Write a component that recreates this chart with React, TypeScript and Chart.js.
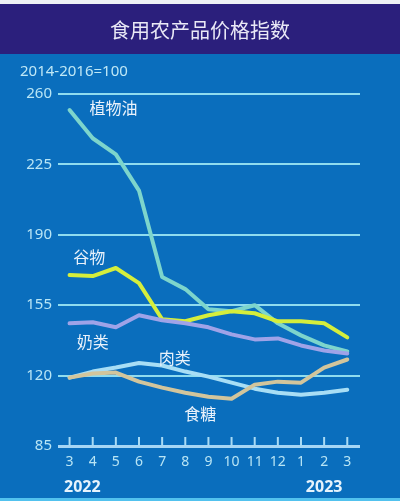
import { useEffect, useRef } from 'react';
import { Chart, registerables } from 'chart.js';

Chart.register(...registerables);

const title = '食用农产品价格指数';
const baseNote = '2014-2016=100';
const months = ['3', '4', '5', '6', '7', '8', '9', '10', '11', '12', '1', '2', '3'];
const years = ['2022', '2023'];
const yearAt = [0.55, 11]; // x position (month index) under which each year label sits

const vegOil = [252, 238, 230, 212, 169, 163, 153, 152, 155, 146, 140, 135, 132];
const cereals = [170, 169.5, 173.5, 166, 148, 147, 150, 152, 151, 147, 147, 146, 139];
const dairy = [146, 146.5, 144, 150, 147.5, 146, 144, 140.5, 138, 138.5, 135, 132.5, 131];
const meat = [119, 122, 124, 126.3, 125, 122, 119.5, 116.5, 113.5, 111.5, 110.5, 111.5, 113];
const sugar = [119, 121, 121.5, 117, 114, 111.5, 109.5, 108.5, 115.5, 117, 116.5, 124, 128];

const seriesNames = ['植物油', '谷物', '奶类', '肉类', '食糖'];
// label anchor: [x index, y value]
const labelAnchors: [number, number][] = [
  [1.9, 253],
  [0.85, 179],
  [1.0, 136.5],
  [4.55, 129],
  [5.65, 101],
];

const CJK = '"Noto Sans CJK SC", "Noto Sans", sans-serif';
const NUM = '"Noto Sans", "DejaVu Sans", sans-serif';

const decor = {
  id: 'decor',
  beforeDraw(chart: any) {
    const { ctx, width, height } = chart;
    ctx.save();
    ctx.fillStyle = '#0a6ebd';
    ctx.fillRect(0, 0, width, height);
    ctx.fillStyle = '#eef0f5';
    ctx.fillRect(0, 0, width, 4);
    ctx.fillStyle = '#2b1f7c';
    ctx.fillRect(0, 4, width, 50);
    ctx.fillStyle = '#52c2ee';
    ctx.fillRect(0, height - 3, width, 3);
    ctx.fillStyle = '#e9e8f6';
    ctx.font = `20px ${CJK}`;
    ctx.textAlign = 'center';
    ctx.textBaseline = 'middle';
    ctx.fillText(title, 200, 30);
    ctx.fillStyle = '#bfe8f6';
    ctx.font = `15px ${NUM}`;
    ctx.textAlign = 'left';
    ctx.fillText(baseNote, 20, 72);
    ctx.restore();
  },
  afterDraw(chart: any) {
    const { ctx } = chart;
    const xs = chart.scales.x;
    const ys = chart.scales.y;
    ctx.save();
    // tick marks pointing up from the axis line
    ctx.strokeStyle = '#a9dbf5';
    ctx.lineWidth = 2;
    const base = ys.getPixelForValue(85);
    months.forEach((_, i) => {
      const px = xs.getPixelForValue(i);
      ctx.beginPath();
      ctx.moveTo(px, base);
      ctx.lineTo(px, base - 9);
      ctx.stroke();
    });
    // series labels
    ctx.fillStyle = '#eaf2fb';
    ctx.font = `16px ${CJK}`;
    ctx.textAlign = 'center';
    ctx.textBaseline = 'middle';
    seriesNames.forEach((n, i) => {
      const [xi, yv] = labelAnchors[i];
      ctx.fillText(n, xs.getPixelForValue(xi), ys.getPixelForValue(yv));
    });
    // years
    ctx.fillStyle = '#e6f3fc';
    ctx.font = `bold 16px ${NUM}`;
    years.forEach((y, i) => {
      ctx.fillText(y, xs.getPixelForValue(yearAt[i]), 487);
    });
    ctx.restore();
  },
};

export default function App() {
  const ref = useRef<HTMLCanvasElement | null>(null);
  useEffect(() => {
    if (!ref.current) return;
    const mk = (label: string, data: number[], color: string) => ({
      label,
      data: data.map((v, i) => ({ x: i, y: v })),
      borderColor: color,
      backgroundColor: color,
      borderWidth: 4,
      pointRadius: 0,
      tension: 0,
      borderJoinStyle: 'round' as const,
      borderCapStyle: 'round' as const,
    });
    const chart = new Chart(ref.current, {
      type: 'line',
      data: {
        datasets: [
          mk('奶类', dairy, '#9fa3e8'),
          mk('食糖', sugar, '#d2c59c'),
          mk('肉类', meat, '#a8def5'),
          mk('谷物', cereals, '#d5ee3c'),
          mk('植物油', vegOil, '#7dd5cc'),
        ],
      },
      options: {
        responsive: false,
        animation: false,
        devicePixelRatio: 1,
        layout: { padding: { left: 0, top: 94, right: 40, bottom: 0 } },
        plugins: { legend: { display: false }, tooltip: { enabled: false } },
        scales: {
          x: {
            type: 'linear',
            min: -0.5,
            max: 12.55,
            afterFit: (s: any) => { s.height = 55; },
            grid: { display: false, drawTicks: false },
            border: { display: false },
            ticks: {
              stepSize: 1,
              includeBounds: false,
              autoSkip: false,
              maxRotation: 0,
              padding: 8,
              color: '#b8e5f5',
              font: { family: NUM, size: 14 },
              callback: (v: any) => months[Number(v)] ?? '',
            },
          },
          y: {
            type: 'linear',
            min: 85,
            max: 260,
            afterFit: (s: any) => { s.width = 58; },
            border: { display: false },
            grid: {
              drawTicks: false,
              color: (c: any) => (c.tick && c.tick.value === 85 ? '#a6d6f5' : '#8fdcef'),
              lineWidth: (c: any) => (c.tick && c.tick.value === 85 ? 3 : 2),
            },
            ticks: {
              stepSize: 35,
              padding: 6,
              color: '#b8e5f5',
              font: { family: NUM, size: 15 },
            },
          },
        },
      },
      plugins: [decor],
    });
    return () => chart.destroy();
  }, []);
  return (
    <div style={{ position: 'absolute', left: 0, top: 0, width: 400, height: 501 }}>
      <canvas ref={ref} width={400} height={501} />
    </div>
  );
}
